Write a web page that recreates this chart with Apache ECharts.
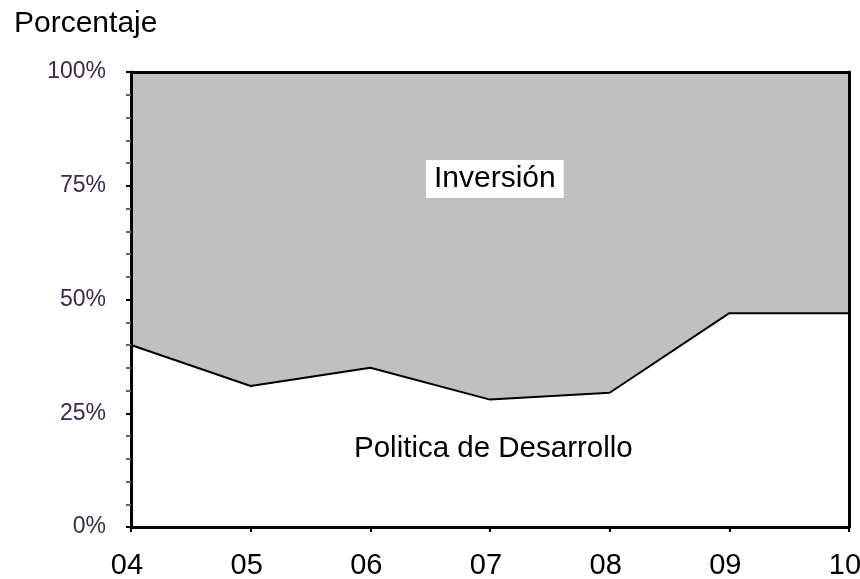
<!DOCTYPE html>
<html><head><meta charset="utf-8">
<script src="https://cdn.jsdelivr.net/npm/echarts@6/dist/echarts.min.js"></script>
<style>html,body{margin:0;padding:0;background:#fff}#c{width:860px;height:579px}</style>
</head><body><div id="c"></div>
<script>
const categories = ['04','05','06','07','08','09','10'];
const politica = [40, 31, 35, 28, 29.5, 47, 47];
const inversion = [60, 69, 65, 72, 70.5, 53, 53];
const yTicks = [0, 25, 50, 75, 100];
const seriesNames = ['Politica de Desarrollo', 'Inversión'];

const chart = echarts.init(document.getElementById('c'));
chart.setOption({
  animation: false,
  backgroundColor: '#fff',
  grid: {left: 131, right: 11, top: 72, bottom: 52, containLabel: false, outerBoundsMode: 'none'},
  title: {text: 'Porcentaje', left: 9, top: 4, textStyle: {fontFamily: 'Liberation Sans, Arial', fontSize: 30, fontWeight: 'normal', color: '#000'}},
  xAxis: [{
    type: 'category', data: categories, boundaryGap: false, z: 10,
    axisLine: {onZero: false, lineStyle: {color: '#000', width: 3}},
    axisTick: {show: true, length: 5, lineStyle: {color: '#000', width: 2}},
    axisLabel: {fontFamily: 'Liberation Sans, Arial', fontSize: 29, color: '#000', margin: 24, padding: [0, 8, 0, 0]}
  }, {
    type: 'category', data: categories, boundaryGap: false, position: 'top', z: 10,
    axisLine: {onZero: false, lineStyle: {color: '#000', width: 3}}, axisTick: {show: false}, axisLabel: {show: false}
  }],
  yAxis: [{
    type: 'value', min: 0, max: 100, interval: 25, z: 10,
    axisLine: {show: true, onZero: false, lineStyle: {color: '#000', width: 3}},
    axisTick: {show: true, length: 5, lineStyle: {color: '#000', width: 2}},
    minorTick: {show: true, splitNumber: 5, length: 5, lineStyle: {color: '#666', width: 2}},
    splitLine: {show: false},
    axisLabel: {formatter: v => yTicks.includes(v) ? v + '%' : '', fontFamily: 'Liberation Sans, Arial', fontSize: 23, color: '#3a2a4a', margin: 25}
  }, {
    type: 'value', min: 0, max: 100, interval: 25, position: 'right', z: 10,
    axisLine: {show: true, onZero: false, lineStyle: {color: '#000', width: 3}},
    axisTick: {show: false}, axisLabel: {show: false}, splitLine: {show: false}
  }],
  series: [
    {name: seriesNames[0], type: 'line', stack: 'total', data: politica, symbol: 'none', z: 5,
     lineStyle: {color: '#000', width: 2}, areaStyle: {color: '#fff', opacity: 1}},
    {name: seriesNames[1], type: 'line', stack: 'total', data: inversion, symbol: 'none', z: 2,
     lineStyle: {width: 0}, areaStyle: {color: '#c0c0c0', opacity: 1}}
  ],
  graphic: [
    {type: 'text', left: 426, top: 160, z: 100, style: {text: 'Inversión', font: '30px "Liberation Sans", Arial', fill: '#000', backgroundColor: '#fff', padding: [4, 8, 4, 8]}},
    {type: 'text', left: 354, top: 434, z: 100, style: {text: 'Politica de Desarrollo', font: '29.5px "Liberation Sans", Arial', fill: '#000'}}
  ]
});
</script></body></html>
